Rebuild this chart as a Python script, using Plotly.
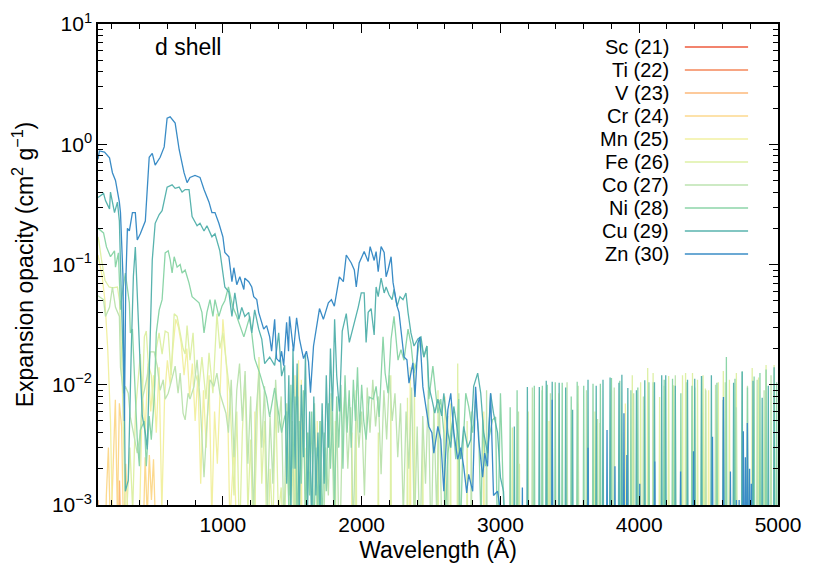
import plotly.graph_objects as go

# ---------------- data (wavelength in Angstrom, opacity in cm^2/g) ----------------
element_names = ["Sc (21)", "Ti (22)", "V (23)", "Cr (24)", "Mn (25)",
                 "Fe (26)", "Co (27)", "Ni (28)", "Cu (29)", "Zn (30)"]
element_colors = ["#ee5a3c", "#f5875a", "#fdb87a", "#fcd98e", "#f2f0a2",
                  "#def0a6", "#bde3b0", "#8cd5a8", "#58b3ae", "#3a8cc6"]

BELOW_AXIS = 1e-4   # value used for samples that fall below the plotted range

sc_data = [(100, 0.0004), (300, 0.0002), (600, 0.0002)]
ti_data = [(100, 0.0005), (300, 0.0002), (600, 0.0002)]
v_data = [(100, 0.0011), (110, 0.0004), (130, 0.0003), (240, 0.0003), (255, 0.0016),
          (270, 0.0003), (600, 0.0003)]
cr_data = [(100, 0.0003), (150, 0.0003), (160, 0.0012), (175, 0.003), (190, 0.0006),
           (205, 0.0015), (225, 0.0075), (240, 0.0008), (254, 0.007), (270, 0.0045),
           (285, 0.0005), (300, 0.0022), (320, 0.0006), (330, 0.0003), (420, 0.0003),
           (440, 0.0025), (455, 0.0008), (470, 0.0026), (485, 0.0011), (500, 0.0024),
           (520, 0.0004), (600, 0.0003)]
mn_data = [(100, 0.12), (130, 0.08), (150, 0.05), (170, 0.02), (190, 0.005), (205, 0.0006),
           (230, 0.0004), (390, 0.0004), (400, 0.0008), (420, 0.009), (440, 0.004),
           (460, 0.015), (480, 0.006), (500, 0.012), (520, 0.004), (540, 0.014),
           (560, 0.0009), (580, 0.008), (600, 0.016), (620, 0.01), (640, 0.02),
           (660, 0.035), (680, 0.03), (700, 0.022), (720, 0.012), (740, 0.02),
           (760, 0.008), (780, 0.015), (800, 0.005), (820, 0.012), (840, 0.0015),
           (860, 0.009), (880, 0.003), (900, 0.012), (920, 0.0008), (940, 0.006),
           (960, 0.0022), (980, 0.01), (1000, 0.035), (1010, 0.025), (1030, 0.012),
           (1050, 0.0007), (1080, 0.003), (1100, 0.0005), (1120, 0.0004)]
mn_spikes = [(1230, 0.006), (1520, 0.012), (1545, 0.016), (1565, 0.011), (1680, 0.005),
             (1930, 0.004), (2350, 0.014), (2600, 0.008), (2880, 0.006), (3350, 0.005),
             (3900, 0.007), (4500, 0.009)]
fe_data = [(100, 0.17), (105, 0.16), (125, 0.11), (150, 0.074), (180, 0.065), (205, 0.064),
           (240, 0.065), (255, 0.05), (270, 0.018), (285, 0.002), (300, 0.0006),
           (330, 0.003), (350, 0.0009), (370, 0.006), (390, 0.012), (405, 0.018),
           (420, 0.008), (434, 0.025), (448, 0.028), (462, 0.015), (484, 0.012),
           (500, 0.006), (520, 0.02), (540, 0.027), (562, 0.018), (584, 0.028),
           (606, 0.027), (627, 0.012), (649, 0.039), (670, 0.037), (692, 0.027),
           (713, 0.02), (728, 0.018), (742, 0.031), (763, 0.016), (785, 0.027),
           (800, 0.0125), (828, 0.0097), (849, 0.017), (878, 0.0076), (900, 0.0184),
           (928, 0.0085), (957, 0.039), (978, 0.02), (1000, 0.027), (1014, 0.02),
           (1050, 0.0085), (1080, 0.0012), (1100, 0.006), (1120, 0.0005), (1140, 0.004),
           (1160, 0.012), (1180, 0.0009), (1200, 0.0035), (1220, 0.0004), (1240, 0.0025),
           (1260, 0.017), (1280, 0.0015), (1300, 0.005), (1320, 0.0003), (1340, 0.002),
           (1360, 0.0006), (1380, 0.008), (1400, 0.0008), (1420, 0.0014), (1440, 0.0004),
           (1460, 0.0035), (1480, 0.0007), (1500, 0.002), (1520, 0.0003)]
fe_spikes = [(1600, 0.003), (1700, 0.0045), (1810, 0.005), (1960, 0.009), (2120, 0.004),
             (2210, 0.012), (2330, 0.0078), (2380, 0.015), (2440, 0.004), (2550, 0.009),
             (2640, 0.007), (2692, 0.015), (2760, 0.005), (3086, 0.0044), (3137, 0.0022),
             (3200, 0.006), (3420, 0.0085), (3560, 0.007), (3681, 0.006), (3717, 0.0048),
             (3800, 0.009), (3950, 0.012), (4010, 0.0105), (4061, 0.0138), (4100, 0.0125),
             (4147, 0.0079), (4212, 0.0118), (4248, 0.0099), (4312, 0.012), (4334, 0.0125),
             (4384, 0.0125), (4420, 0.011), (4460, 0.012), (4477, 0.0093), (4570, 0.0105),
             (4606, 0.013), (4650, 0.011), (4700, 0.0125), (4814, 0.0138), (4860, 0.0115),
             (4914, 0.0146), (4972, 0.0146)]
co_data = [(100, 0.055), (140, 0.051), (154, 0.037), (183, 0.044), (204, 0.065), (226, 0.044),
           (254, 0.037), (262, 0.014), (283, 0.0085), (297, 0.0097), (318, 0.0085),
           (333, 0.0054), (355, 0.004), (369, 0.0033), (383, 0.0027), (405, 0.004),
           (419, 0.0076), (434, 0.009), (455, 0.0118), (477, 0.0188), (505, 0.0188),
           (527, 0.0143), (548, 0.009), (570, 0.011), (584, 0.0076), (606, 0.0085),
           (620, 0.0097), (641, 0.0118), (656, 0.0143), (677, 0.0085), (692, 0.0125),
           (713, 0.0058), (728, 0.0051), (749, 0.0085), (763, 0.0076), (792, 0.0097),
           (814, 0.0161), (835, 0.0076), (864, 0.0017), (885, 0.0048), (907, 0.011),
           (935, 0.0097), (957, 0.0125), (978, 0.0085), (1007, 0.0066), (1022, 0.0058),
           (1040, 0.004), (1060, 0.011), (1080, 0.0025), (1100, 0.009), (1120, 0.015),
           (1140, 0.005), (1160, 0.013), (1180, 0.0022), (1200, 0.008), (1220, 0.0008),
           (1240, 0.006), (1260, 0.0125), (1280, 0.003), (1300, 0.0097), (1320, 0.0009),
           (1340, 0.0055), (1360, 0.0015), (1380, 0.011), (1400, 0.004), (1420, 0.008),
           (1440, 0.0006), (1460, 0.007), (1480, 0.0012), (1500, 0.005), (1520, 0.0005),
           (1540, 0.008), (1560, 0.002), (1580, 0.006), (1600, 0.0004), (1620, 0.004),
           (1640, 0.0009), (1660, 0.007), (1680, 0.0007), (1700, 0.005), (1720, 0.0003),
           (1740, 0.003), (1760, 0.0012), (1780, 0.0085), (1800, 0.0008), (1820, 0.006),
           (1840, 0.0003), (1860, 0.004), (1880, 0.009), (1900, 0.002), (1920, 0.0065),
           (1940, 0.0006), (1960, 0.0075), (1980, 0.003), (2000, 0.006), (2020, 0.0012),
           (2040, 0.0095), (2060, 0.004), (2080, 0.011), (2100, 0.0045), (2120, 0.008),
           (2140, 0.0018), (2160, 0.009), (2180, 0.0035), (2200, 0.012), (2220, 0.005),
           (2240, 0.0085), (2260, 0.0025), (2280, 0.007), (2300, 0.0008), (2320, 0.006),
           (2340, 0.002), (2360, 0.0095), (2380, 0.0006), (2400, 0.0045), (2420, 0.0004),
           (2440, 0.0055), (2460, 0.0015), (2480, 0.009), (2500, 0.0004), (2520, 0.0065),
           (2540, 0.0009), (2560, 0.0075), (2580, 0.0004), (2600, 0.0003)]
co_spikes = [(2620, 0.0055), (2700, 0.0085), (2790, 0.006), (2900, 0.009), (3130, 0.006),
             (3230, 0.0095), (3300, 0.009), (3360, 0.0085), (3480, 0.0105), (3560, 0.0098),
             (3620, 0.009), (3700, 0.0052), (3820, 0.0095), (3960, 0.0085), (4030, 0.008),
             (4100, 0.0105), (4180, 0.0098), (4260, 0.012), (4340, 0.0105), (4400, 0.0095),
             (4480, 0.009), (4550, 0.01), (4620, 0.0105), (4700, 0.0065), (4780, 0.0098),
             (4850, 0.011), (4900, 0.009), (4950, 0.012)]
ni_data = [(100, 0.2), (140, 0.183), (161, 0.14), (190, 0.116), (219, 0.13), (226, 0.095),
           (247, 0.125), (262, 0.042), (276, 0.058), (297, 0.085), (326, 0.048),
           (333, 0.027), (348, 0.029), (362, 0.0125), (369, 0.0091), (383, 0.0035),
           (398, 0.0021), (405, 0.0042), (434, 0.005), (448, 0.0021), (469, 0.0055),
           (484, 0.0035), (505, 0.0076), (520, 0.027), (541, 0.042), (562, 0.051),
           (584, 0.125), (606, 0.13), (620, 0.11), (634, 0.085), (649, 0.116), (670, 0.095),
           (692, 0.10), (706, 0.085), (728, 0.09), (756, 0.07), (778, 0.054), (799, 0.051),
           (828, 0.048), (849, 0.04), (864, 0.027), (885, 0.04), (907, 0.051), (928, 0.037),
           (943, 0.051), (971, 0.037), (993, 0.045), (1014, 0.05), (1040, 0.065),
           (1070, 0.045), (1100, 0.037), (1151, 0.025), (1194, 0.037), (1229, 0.0165),
           (1265, 0.0125), (1315, 0.0079), (1337, 0.0054), (1373, 0.0094), (1423, 0.004),
           (1445, 0.0054), (1460, 0.006), (1475, 0.0009), (1490, 0.01), (1505, 0.002),
           (1520, 0.008), (1535, 0.0006), (1550, 0.005), (1565, 0.0015), (1580, 0.009),
           (1595, 0.0007), (1610, 0.004), (1625, 0.0012), (1640, 0.006), (1655, 0.0005),
           (1670, 0.003), (1685, 0.0009), (1700, 0.005), (1715, 0.0006), (1730, 0.004),
           (1745, 0.0013), (1760, 0.007), (1775, 0.002), (1790, 0.006), (1805, 0.0009),
           (1820, 0.008), (1835, 0.003), (1850, 0.01), (1865, 0.002), (1880, 0.012),
           (1895, 0.004), (1910, 0.009), (1925, 0.003), (1940, 0.011), (1955, 0.005),
           (1970, 0.014), (1985, 0.004), (2000, 0.01), (2015, 0.005), (2032, 0.0035),
           (2054, 0.0079), (2083, 0.0076), (2104, 0.0097), (2126, 0.0054), (2154, 0.025),
           (2169, 0.0125), (2190, 0.0085), (2212, 0.024), (2233, 0.037), (2248, 0.022),
           (2262, 0.016), (2283, 0.0196), (2305, 0.016), (2334, 0.029), (2355, 0.022),
           (2377, 0.0125), (2398, 0.016), (2420, 0.025), (2448, 0.017), (2470, 0.021),
           (2484, 0.0076), (2513, 0.0143), (2527, 0.0097), (2549, 0.0058), (2570, 0.0076),
           (2592, 0.004), (2600, 0.0006), (2621, 0.0027), (2656, 0.0051), (2678, 0.0024),
           (2699, 0.0076), (2710, 0.0005), (2728, 0.0027), (2750, 0.0085), (2771, 0.0066),
           (2800, 0.004), (2821, 0.0076), (2843, 0.004), (2860, 0.0007), (2872, 0.0051),
           (2893, 0.0021), (2915, 0.0035), (2943, 0.0051), (2965, 0.0054), (2980, 0.0004),
           (3000, 0.0085), (3022, 0.0011), (3040, 0.0004)]
ni_spikes = [(3070, 0.0065), (3120, 0.009), (3244, 0.0098), (3302, 0.0098), (3337, 0.01),
             (3395, 0.0105), (3445, 0.0104), (3510, 0.008), (3553, 0.0106), (3600, 0.0098),
             (3667, 0.0102), (3720, 0.0102), (3800, 0.0114), (3860, 0.0108), (3940, 0.009),
             (3990, 0.0095), (4070, 0.0105), (4180, 0.011), (4240, 0.0112), (4300, 0.0085),
             (4380, 0.0098), (4449, 0.0118), (4560, 0.0104), (4628, 0.017), (4690, 0.0112),
             (4742, 0.0129), (4780, 0.0095), (4828, 0.0117), (4870, 0.0125), (4914, 0.0134),
             (4990, 0.0105)]
cu_data = [(100, 0.36), (140, 0.39), (154, 0.34), (183, 0.29), (190, 0.40), (219, 0.27),
           (240, 0.33), (254, 0.23), (269, 0.05), (290, 0.0074), (297, 0.0013),
           (318, 0.0016), (340, 0.02), (355, 0.08), (369, 0.14), (383, 0.06), (398, 0.027),
           (405, 0.014), (419, 0.0055), (441, 0.004), (455, 0.0029), (477, 0.027),
           (491, 0.109), (512, 0.22), (541, 0.26), (562, 0.28), (584, 0.36), (598, 0.44),
           (634, 0.46), (656, 0.43), (685, 0.44), (706, 0.40), (728, 0.42), (756, 0.42),
           (778, 0.25), (814, 0.21), (835, 0.22), (864, 0.19), (885, 0.21), (921, 0.17),
           (943, 0.18), (978, 0.13), (1014, 0.065), (1043, 0.059), (1065, 0.037),
           (1086, 0.058), (1115, 0.035), (1136, 0.044), (1158, 0.037), (1186, 0.040),
           (1208, 0.027), (1229, 0.042), (1258, 0.029), (1280, 0.024), (1301, 0.015),
           (1337, 0.017), (1373, 0.0145), (1402, 0.027), (1423, 0.0118), (1445, 0.0145),
           (1460, 0.0015), (1475, 0.012), (1490, 0.0008), (1505, 0.02), (1520, 0.002),
           (1535, 0.015), (1550, 0.0007), (1565, 0.01), (1580, 0.0025), (1595, 0.018),
           (1610, 0.0009), (1625, 0.006), (1640, 0.0006), (1655, 0.008), (1670, 0.0012),
           (1685, 0.004), (1700, 0.0008), (1715, 0.007), (1730, 0.0015), (1745, 0.012),
           (1760, 0.003), (1775, 0.02), (1790, 0.006), (1805, 0.035), (1820, 0.012),
           (1840, 0.006), (1860, 0.028), (1889, 0.039), (1911, 0.0225), (1939, 0.030),
           (1975, 0.044), (1997, 0.058), (2018, 0.058), (2032, 0.0225), (2047, 0.04),
           (2068, 0.043), (2090, 0.026), (2104, 0.065), (2119, 0.054), (2140, 0.077),
           (2162, 0.058), (2176, 0.065), (2197, 0.056), (2219, 0.051), (2233, 0.062),
           (2255, 0.045), (2276, 0.054), (2298, 0.051), (2319, 0.058), (2334, 0.04),
           (2355, 0.027), (2377, 0.021), (2405, 0.024), (2427, 0.025), (2448, 0.017),
           (2470, 0.021), (2484, 0.0097), (2506, 0.0076), (2527, 0.0058), (2549, 0.0076),
           (2577, 0.0055), (2592, 0.0085), (2621, 0.004), (2642, 0.003), (2664, 0.0066),
           (2692, 0.004), (2714, 0.0024), (2735, 0.0045), (2764, 0.003), (2786, 0.0035),
           (2807, 0.0097), (2836, 0.0125), (2858, 0.0085), (2879, 0.004), (2907, 0.0027),
           (2929, 0.0085), (2950, 0.0058), (2979, 0.004), (3000, 0.0017), (3022, 0.0013),
           (3040, 0.0004)]
cu_spikes = [(3100, 0.0045), (3194, 0.0096), (3280, 0.0096), (3330, 0.0108), (3373, 0.0106),
             (3423, 0.0104), (3470, 0.0095), (3520, 0.0062), (3631, 0.011), (3690, 0.0098),
             (3739, 0.011), (3790, 0.0115), (3854, 0.0104), (3875, 0.0121), (3918, 0.0094),
             (3980, 0.009), (4040, 0.0109), (4110, 0.0105), (4162, 0.012), (4191, 0.012),
             (4260, 0.0098), (4348, 0.011), (4400, 0.0112), (4449, 0.0118), (4520, 0.012),
             (4606, 0.0075), (4680, 0.0104), (4742, 0.0129), (4820, 0.0108), (4886, 0.0078),
             (4930, 0.0098), (4972, 0.014)]
zn_data = [(100, 0.75), (110, 0.88), (147, 0.86), (183, 0.77), (204, 0.58), (226, 0.50),
           (254, 0.33), (262, 0.27), (280, 0.08), (290, 0.005), (300, 0.07), (312, 0.20),
           (326, 0.19), (348, 0.27), (369, 0.27), (383, 0.16), (405, 0.18), (441, 0.23),
           (469, 0.78), (491, 0.84), (512, 0.67), (548, 0.78), (577, 0.95), (598, 1.65),
           (620, 1.69), (656, 1.50), (685, 0.90), (720, 0.58), (742, 0.48), (763, 0.53),
           (799, 0.55), (835, 0.53), (864, 0.42), (900, 0.33), (921, 0.27), (943, 0.27),
           (971, 0.22), (1000, 0.17), (1014, 0.126), (1043, 0.116), (1065, 0.072),
           (1079, 0.094), (1100, 0.068), (1122, 0.079), (1151, 0.062), (1158, 0.077),
           (1186, 0.072), (1208, 0.065), (1222, 0.054), (1244, 0.051), (1258, 0.040),
           (1294, 0.029), (1315, 0.031), (1337, 0.025), (1351, 0.019), (1373, 0.035),
           (1387, 0.0165), (1409, 0.0155), (1423, 0.019), (1438, 0.0144), (1459, 0.033),
           (1473, 0.019), (1480, 0.037), (1509, 0.019), (1531, 0.036), (1552, 0.024),
           (1581, 0.0165), (1602, 0.019), (1617, 0.0155), (1631, 0.0086), (1653, 0.021),
           (1674, 0.031), (1696, 0.043), (1724, 0.035), (1760, 0.048), (1782, 0.051),
           (1803, 0.045), (1839, 0.079), (1868, 0.072), (1889, 0.12), (1925, 0.103),
           (1947, 0.09), (1961, 0.065), (1982, 0.103), (2018, 0.128), (2047, 0.106),
           (2061, 0.141), (2090, 0.108), (2104, 0.128), (2119, 0.087), (2140, 0.141),
           (2162, 0.126), (2176, 0.079), (2190, 0.09), (2212, 0.116), (2226, 0.071),
           (2233, 0.062), (2255, 0.045), (2269, 0.040), (2291, 0.0222), (2305, 0.017),
           (2326, 0.0161), (2341, 0.0103), (2369, 0.0152), (2384, 0.0079), (2405, 0.0222),
           (2420, 0.0249), (2441, 0.0096), (2463, 0.0065), (2484, 0.0045), (2506, 0.004),
           (2520, 0.0027), (2549, 0.0045), (2570, 0.0035), (2592, 0.0013), (2621, 0.0062),
           (2642, 0.0085), (2664, 0.004), (2692, 0.0024), (2714, 0.003), (2735, 0.0021),
           (2757, 0.00126), (2771, 0.0018), (2800, 0.0013), (2821, 0.0096), (2843, 0.0035),
           (2872, 0.0017), (2886, 0.0027), (2907, 0.0021), (2929, 0.0085), (2950, 0.0012),
           (2979, 0.0013), (3000, 0.0009), (3020, 0.0004)]
zn_spikes = [(3158, 0.0014), (3373, 0.0075), (3631, 0.003), (3768, 0.0042), (3825, 0.0021),
             (3890, 0.0058), (3911, 0.0026), (4004, 0.0015), (4112, 0.0023), (4298, 0.0019),
             (4391, 0.0028), (4528, 0.0037), (4607, 0.0079), (4657, 0.0019), (4700, 0.0011),
             (4720, 0.0011), (4750, 0.0041), (4765, 0.0025), (4779, 0.0048), (4795, 0.002),
             (4808, 0.0015)]

y_tick_values = [1e-3, 1e-2, 1e-1, 1e0, 1e1]
y_tick_labels = ["10<sup>\u22123</sup>", "10<sup>\u22122</sup>", "10<sup>\u22121</sup>",
                 "10<sup>0</sup>", "10<sup>1</sup>"]
x_tick_values = [1000, 2000, 3000, 4000, 5000]


def build_series(samples, spikes=()):
    """Continuous samples followed by isolated single-sample spikes that rise from
    below the plotted range (neighbouring samples lie below the axis)."""
    xs = [w for w, _ in samples]
    ys = [v for _, v in samples]
    for w, v in spikes:
        xs += [w - 6, w, w + 6]
        ys += [BELOW_AXIS, v, BELOW_AXIS]
    return xs, ys


series = [
    (sc_data, ()), (ti_data, ()), (v_data, ()), (cr_data, ()), (mn_data, mn_spikes),
    (fe_data, fe_spikes), (co_data, co_spikes), (ni_data, ni_spikes),
    (cu_data, cu_spikes), (zn_data, zn_spikes),
]

fig = go.Figure()
for (samples, spikes), name, color in zip(series, element_names, element_colors):
    xs, ys = build_series(samples, spikes)
    fig.add_trace(go.Scatter(x=xs, y=ys, mode="lines", name=name,
                             line=dict(color=color, width=1.3), showlegend=False))

FONT = "Liberation Sans, Arial, Helvetica, sans-serif"
FS_TICK = 21
FS_TEXT = 23
FS_KEY = 20

# the page body adds an 8 px margin, so the figure is 16 px smaller than the window
fig.update_layout(
    width=814, height=564,
    margin=dict(l=90, r=44, t=16, b=67),
    plot_bgcolor="white", paper_bgcolor="white",
    font=dict(family=FONT, size=FS_TICK, color="black"),
    showlegend=False,
)

fig.update_xaxes(
    range=[100, 5000], tickmode="array", tickvals=x_tick_values,
    ticks="inside", ticklen=9, tickwidth=1.2, tickcolor="black",
    showline=True, linecolor="black", linewidth=1.5, mirror="allticks",
    showgrid=False, zeroline=False, automargin=False,
    minor=dict(ticks="inside", ticklen=5, tickwidth=1, tickcolor="black",
               dtick=200, tick0=0, showgrid=False),
    title=dict(text="Wavelength (\u00c5)", font=dict(size=FS_TEXT), standoff=6),
    tickfont=dict(size=FS_TICK),
)

minor_y = [m * 10 ** e for e in range(-3, 1) for m in range(2, 10)]
fig.update_yaxes(
    type="log", range=[-3, 1], tickmode="array",
    tickvals=y_tick_values, ticktext=y_tick_labels,
    ticks="inside", ticklen=9, tickwidth=1.2, tickcolor="black",
    showline=True, linecolor="black", linewidth=1.5, mirror="allticks",
    showgrid=False, zeroline=False, automargin=False,
    minor=dict(ticks="inside", ticklen=5, tickwidth=1, tickcolor="black",
               tickvals=minor_y, showgrid=False),
    title=dict(text="Expansion opacity (cm<sup>2</sup> g<sup>\u22121</sup>)",
               font=dict(size=FS_TEXT), standoff=12),
    tickfont=dict(size=FS_TICK),
)

# panel label
fig.add_annotation(xref="paper", yref="paper", x=0.081, y=0.952, xanchor="left",
                   yanchor="middle", text="d shell", showarrow=False,
                   font=dict(size=FS_TEXT, family=FONT))

# key in the upper right: label on the left, line sample on the right
row0, row_step = 0.952, 0.0478
for i, (name, color) in enumerate(zip(element_names, element_colors)):
    yy = row0 - i * row_step
    fig.add_annotation(xref="paper", yref="paper", x=0.841, y=yy, xanchor="right",
                       yanchor="middle", text=name, showarrow=False, borderpad=0,
                       font=dict(size=FS_KEY, family=FONT))
    fig.add_shape(type="line", xref="paper", yref="paper", x0=0.863, x1=0.956,
                  y0=yy, y1=yy, line=dict(color=color, width=1.5))

fig.write_html("out.html")
